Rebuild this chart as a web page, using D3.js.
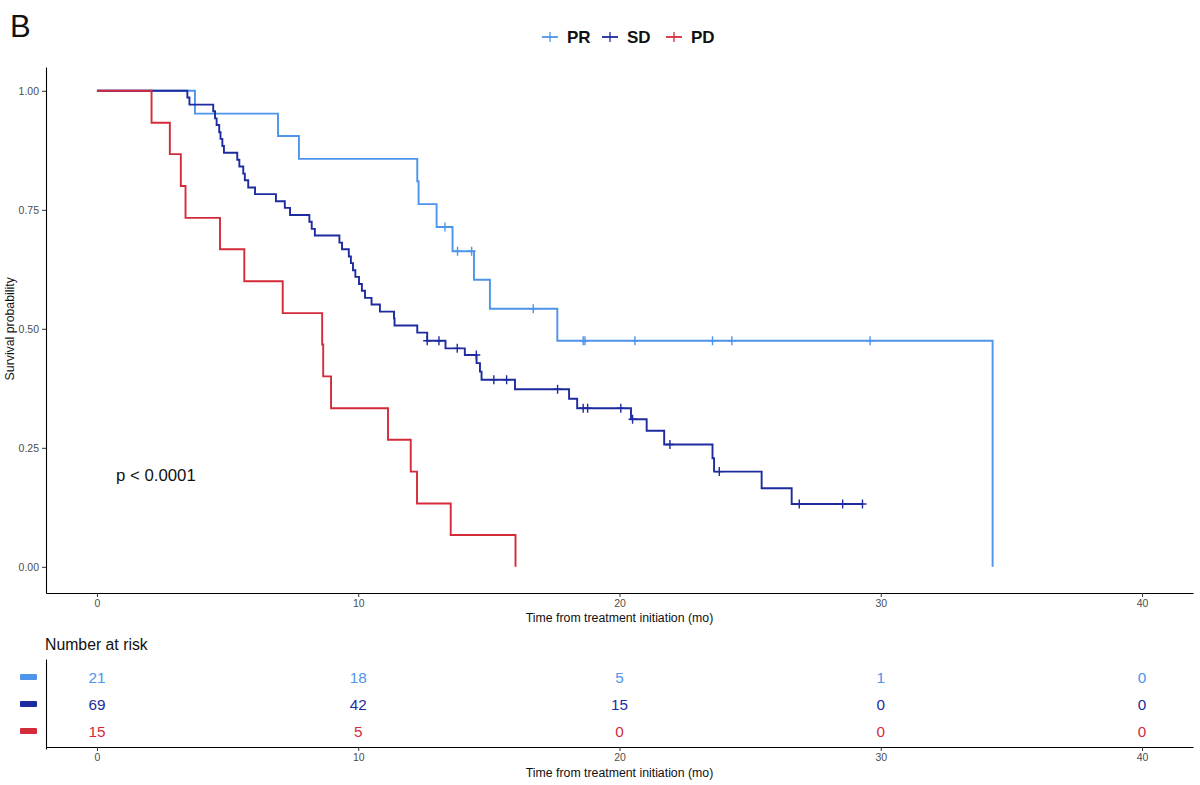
<!DOCTYPE html>
<html>
<head>
<meta charset="utf-8">
<script src="https://cdn.jsdelivr.net/npm/d3@7"></script>
<style>
  body { margin: 0; background: #fff; }
  svg { font-family: "Liberation Sans", Arial, sans-serif; }
  .axis text { fill: #4d4d4d; font-size: 10.5px; }
  .axis line { stroke: #333; }
  .axis path { stroke: #000; stroke-width: 1.1px; }
</style>
</head>
<body>
<div id="chart"></div>
<script>
var width = 1200,
    height = 785;

var groups = ['PR', 'SD', 'PD'],
    groupColors = ['#4d94ea', '#1d2b9e', '#d42b3a'];

// step times (months) and survival after each step
var prTime = [3.75, 6.93, 7.73, 12.26, 12.31, 13.0, 13.61, 14.43, 15.04, 17.62, 34.28];
var prSurv = [0.952, 0.905, 0.857, 0.810, 0.762, 0.714, 0.663, 0.603, 0.542, 0.475, 0];
var prCensor = [13.32, 13.80, 14.34, 16.70, 18.61, 18.68, 20.59, 23.56, 24.30, 29.59];

var sdTime = [3.46, 3.54, 4.45, 4.52, 4.58, 4.68, 4.73, 4.80, 4.86, 5.37, 5.45, 5.60, 5.66, 5.79, 6.05,
  6.85, 7.19, 7.39, 8.13, 8.22, 8.34, 9.28, 9.38, 9.64, 9.72, 9.80, 9.89, 10.03, 10.14, 10.26, 10.51, 10.83,
  11.37, 11.39, 12.26, 12.64, 13.34, 14.08, 14.53, 14.66, 14.72, 16.00, 18.07, 18.38, 20.44, 21.04, 21.71,
  23.56, 23.62, 25.44, 26.59];
var sdSurv = [0.986, 0.971, 0.957, 0.942, 0.928, 0.913, 0.899, 0.884, 0.870, 0.855, 0.841, 0.826, 0.812, 0.797, 0.783,
  0.768, 0.754, 0.739, 0.725, 0.710, 0.696, 0.681, 0.667, 0.652, 0.638, 0.623, 0.609, 0.594, 0.580, 0.565, 0.551, 0.536,
  0.522, 0.507, 0.492, 0.475, 0.459, 0.445, 0.428, 0.410, 0.393, 0.373, 0.353, 0.333, 0.310, 0.286, 0.257,
  0.228, 0.200, 0.165, 0.132];
var sdCensor = [12.64, 13.09, 13.79, 14.52, 15.19, 15.68, 17.63, 18.61, 18.78, 20.05, 20.50, 21.93, 23.82, 26.88, 28.54, 29.30];

var pdTime = [2.09, 2.79, 3.21, 3.39, 4.71, 5.64, 7.11, 8.62, 8.66, 8.96, 11.14, 12.01, 12.25, 13.54, 16.02];
var pdSurv = [0.933, 0.867, 0.800, 0.733, 0.667, 0.600, 0.533, 0.467, 0.400, 0.333, 0.267, 0.200, 0.133, 0.067, 0];
var pdCensor = [];

// number at risk table
var riskTimes = [0, 10, 20, 30, 40];
var prRisk = [21, 18, 5, 1, 0];
var sdRisk = [69, 42, 15, 0, 0];
var pdRisk = [15, 5, 0, 0, 0];

var xTicks = [0, 10, 20, 30, 40];
var yTicks = [0, 0.25, 0.5, 0.75, 1];

var curves = [
  { name: 'PR', time: prTime, surv: prSurv, censor: prCensor, risk: prRisk },
  { name: 'SD', time: sdTime, surv: sdSurv, censor: sdCensor, risk: sdRisk },
  { name: 'PD', time: pdTime, surv: pdSurv, censor: pdCensor, risk: pdRisk }
];

var color = d3.scaleOrdinal().domain(groups).range(groupColors);

var x = d3.scaleLinear().domain([-1.95, 41.95]).range([46, 1193]);
var y = d3.scaleLinear().domain([-0.055, 1.05]).range([593, 67]);
var rowY = d3.scalePoint().domain(groups).range([659, 749]).padding(2 / 3);

var svg = d3.select('#chart').append('svg')
    .attr('width', width)
    .attr('height', height);

// panel label
svg.append('text')
    .attr('x', 10)
    .attr('y', 37)
    .attr('font-size', 31)
    .attr('fill', '#111')
    .text('B');

// legend
var legend = svg.append('g').attr('class', 'legend');
var legendX = [550, 610, 674];
groups.forEach(function(g, i) {
  var lg = legend.append('g').attr('transform', 'translate(' + legendX[i] + ',37)');
  lg.append('line').attr('x1', -8).attr('x2', 8).attr('stroke', color(g)).attr('stroke-width', 1.8);
  lg.append('line').attr('y1', -5).attr('y2', 5).attr('stroke', color(g)).attr('stroke-width', 1.3);
  lg.append('text')
      .attr('x', 17)
      .attr('y', 6)
      .attr('font-size', 17)
      .attr('font-weight', 'bold')
      .attr('fill', '#111')
      .text(g);
});

// axes of survival panel
svg.append('g')
    .attr('class', 'axis')
    .attr('transform', 'translate(0,593)')
    .call(d3.axisBottom(x).tickValues(xTicks).tickSize(4).tickSizeOuter(0).tickPadding(3));

svg.append('g')
    .attr('class', 'axis')
    .attr('transform', 'translate(46,0)')
    .call(d3.axisLeft(y).tickValues(yTicks).tickSize(4).tickSizeOuter(0).tickPadding(3)
      .tickFormat(d3.format('.2f')));

svg.append('text')
    .attr('x', (x(0) + x(40)) / 2)
    .attr('y', 622)
    .attr('text-anchor', 'middle')
    .attr('font-size', 12.3)
    .attr('fill', '#111')
    .text('Time from treatment initiation (mo)');

svg.append('text')
    .attr('transform', 'translate(14,' + y(0.5) + ') rotate(-90)')
    .attr('text-anchor', 'middle')
    .attr('font-size', 12.3)
    .attr('fill', '#111')
    .text('Survival probability');

// curves
var line = d3.line()
    .x(function(d) { return x(d[0]); })
    .y(function(d) { return y(d[1]); })
    .curve(d3.curveStepAfter);

function survAt(c, t) {
  var i = d3.bisectRight(c.time, t);
  return i === 0 ? 1 : c.surv[i - 1];
}

curves.forEach(function(c) {
  var pts = [[0, 1]];
  c.time.forEach(function(t, i) { pts.push([t, c.surv[i]]); });
  var lastCensor = c.censor.length ? c.censor[c.censor.length - 1] : 0;
  if (lastCensor > c.time[c.time.length - 1]) pts.push([lastCensor, c.surv[c.surv.length - 1]]);

  svg.append('path')
      .datum(pts)
      .attr('fill', 'none')
      .attr('stroke', color(c.name))
      .attr('stroke-width', 1.9)
      .attr('d', line);

  svg.selectAll('.censor-' + c.name)
      .data(c.censor)
      .enter().append('path')
      .attr('class', 'censor-' + c.name)
      .attr('stroke', color(c.name))
      .attr('stroke-width', 1.4)
      .attr('d', function(t) {
        var cx = x(t), cy = y(survAt(c, t));
        return 'M' + (cx - 4) + ',' + cy + 'H' + (cx + 4) + 'M' + cx + ',' + (cy - 4.5) + 'V' + (cy + 4.5);
      });
});

svg.append('text')
    .attr('x', 116)
    .attr('y', 481)
    .attr('font-size', 16.8)
    .attr('fill', '#111')
    .text('p < 0.0001');

// risk table
svg.append('text')
    .attr('x', 45)
    .attr('y', 650)
    .attr('font-size', 15.8)
    .attr('fill', '#111')
    .text('Number at risk');

svg.append('g')
    .attr('class', 'axis')
    .attr('transform', 'translate(0,747)')
    .call(d3.axisBottom(x).tickValues(xTicks).tickSize(4).tickSizeOuter(0).tickPadding(3));

var tableY = svg.append('g')
    .attr('class', 'axis')
    .attr('transform', 'translate(46,0)')
    .call(d3.axisLeft(rowY).tickSize(0).tickSizeOuter(0).tickFormat(''));

svg.append('text')
    .attr('x', (x(0) + x(40)) / 2)
    .attr('y', 777)
    .attr('text-anchor', 'middle')
    .attr('font-size', 12.3)
    .attr('fill', '#111')
    .text('Time from treatment initiation (mo)');

curves.forEach(function(c) {
  svg.append('rect')
      .attr('x', 20)
      .attr('y', rowY(c.name) - 3)
      .attr('width', 17)
      .attr('height', 6)
      .attr('rx', 1)
      .attr('fill', color(c.name));

  svg.selectAll('.risk-' + c.name)
      .data(c.risk)
      .enter().append('text')
      .attr('class', 'risk-' + c.name)
      .attr('x', function(d, i) { return x(riskTimes[i]); })
      .attr('y', rowY(c.name))
      .attr('dy', '0.36em')
      .attr('text-anchor', 'middle')
      .attr('font-size', 15.3)
      .attr('fill', color(c.name))
      .text(function(d) { return d; });
});
</script>
</body>
</html>
